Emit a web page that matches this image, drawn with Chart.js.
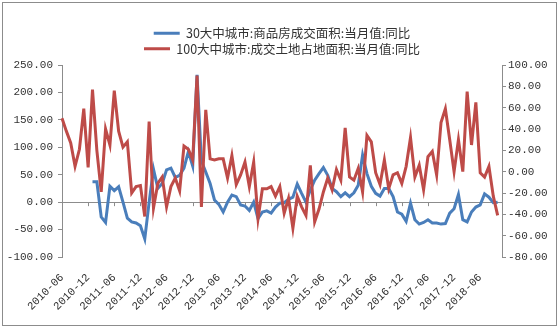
<!DOCTYPE html>
<html>
<head>
<meta charset="utf-8">
<script src="https://cdn.jsdelivr.net/npm/chart.js@4/dist/chart.umd.min.js"></script>
<style>
    body { margin: 0; background: #fff; }
    #wrap {
        position: absolute;
        left: 2px;
        top: 2px;
        width: 553px;
        height: 322px;
        border: 1px solid #8c8c8c;
    }
</style>
</head>
<body>
<div id="wrap"><canvas id="chart" width="553" height="322"></canvas></div>
<script>
// Months on the x axis: 2010-06 .. 2018-11 (last month has no data yet)
const startYear = 2010;
const startMonth = 6;
const monthCount = 102;
const months = [];
for (let i = 0; i < monthCount; i++) {
    const m = startMonth - 1 + i;
    const y = startYear + Math.floor(m / 12);
    const mm = (m % 12) + 1;
    months.push(y + '-' + (mm < 10 ? '0' + mm : mm));
}

const houseLabel = '30大中城市:商品房成交面积:当月值:同比';
const landLabel = '100大中城市:成交土地占地面积:当月值:同比';

// 30 cities, housing sales area yoy (left axis)
const houseValues = [
    null, null, null, null, null, null, null, 37, 37, -27,
    -37, 29, 21, 28, 0, -29, -36, -38, -43, -67,
    0, 60, 25, 34, 59, 62, 45, 49, 62, 92,
    66, 232, 75, 55, 34, 4, -4, -18, 0, 13,
    10, -5, -7, -15, 0, -30, -18, -16, -20, -9,
    -2, -1, 5, 9, 33, 16, 0, 22, 40, 52,
    63, 49, 25, 19, 10, 17, 10, 17, 31, 86,
    52, 29, 16, 11, 25, 25, 10, -18, -22, -35,
    -2, -32, -40, -37, -32, -38, -38, -40, -39, -20,
    -12, 14, -32, -36, -18, -9, -5, 15, 9, -1,
    0
];

// 100 cities, land area sold yoy (right axis)
const landValues = [
    50, 38, 27, 5, 21, 59, 4, 77, 20, -19,
    40, 25, 76, 38, 23, 28, -20, -14, -13, -42,
    47, -34, -11, -5, -33, -14, -6, -18, 24, 21,
    11, 90, -33, 58, 12, 11, 12, 12, -6, 15,
    -12, -3, 9, -14, 9, -44, -16, -16, -14, -23,
    -14, -39, -25, -53, -23, -33, -41, 6, -47, -35,
    -19, -6, -17, 2, -8, 41, -5, -8, 3, -19,
    34, 28, -1, -12, 11, -16, -3, -1, -11, 5,
    32, -5, 6, -17, 14, 19, -3, 46, 59, 30,
    0, 30, 0, 75, 25, 65, -1, -5, 5, -23,
    -41
];

const leftTicks = { min: -100, max: 250, step: 50 };
const rightTicks = { min: -80, max: 100, step: 20 };
const labelEvery = 6;

const axisColor = '#8c8c8c';
const textColor = '#333';
const tickFont = { family: 'Liberation Mono', size: 11 };

// small tick marks on the zero line, like the excel category axis
const zeroLineTicks = {
    id: 'zeroLineTicks',
    beforeDatasetsDraw(chart) {
        const ctx = chart.ctx;
        const xs = chart.scales.x;
        const y0 = chart.scales.y.getPixelForValue(0);
        ctx.save();
        ctx.strokeStyle = axisColor;
        ctx.lineWidth = 1;
        ctx.beginPath();
        for (let i = 0; i < months.length; i += labelEvery) {
            const px = Math.round(xs.getPixelForValue(i)) + 0.5;
            ctx.moveTo(px, y0);
            ctx.lineTo(px, y0 + 4);
        }
        ctx.stroke();
        ctx.restore();
    }
};

new Chart(document.getElementById('chart'), {
    type: 'line',
    data: {
        labels: months,
        datasets: [{
            label: houseLabel,
            data: houseValues,
            yAxisID: 'y',
            borderColor: '#4a7ebb',
            backgroundColor: '#4a7ebb',
            borderWidth: 3,
            pointRadius: 0,
            tension: 0,
            spanGaps: false,
            order: 1
        }, {
            label: landLabel,
            data: landValues,
            yAxisID: 'y1',
            borderColor: '#be4b48',
            backgroundColor: '#be4b48',
            borderWidth: 3,
            pointRadius: 0,
            tension: 0,
            order: 0
        }]
    },
    options: {
        responsive: false,
        animation: false,
        layout: { padding: { top: 8, left: 0, right: 0, bottom: 0 } },
        plugins: {
            tooltip: { enabled: false },
            legend: {
                position: 'top',
                fullSize: false,
                labels: {
                    color: textColor,
                    font: { family: 'Noto Sans CJK SC', size: 12.5 },
                    boxWidth: 26,
                    boxHeight: 3,
                    padding: 3,
                    generateLabels: function(chart) {
                        const items = Chart.defaults.plugins.legend.labels.generateLabels(chart);
                        items.forEach(it => { it.lineWidth = 0; });
                        return items.sort((a, b) => a.datasetIndex - b.datasetIndex);
                    }
                }
            }
        },
        scales: {
            x: {
                type: 'category',
                offset: false,
                grid: { display: false },
                border: { display: false },
                ticks: {
                    autoSkip: false,
                    minRotation: 45,
                    maxRotation: 45,
                    padding: 6,
                    color: textColor,
                    font: tickFont,
                    callback: function(v, i) {
                        return i % labelEvery === 0 ? months[i] : '';
                    }
                },
                afterFit: function(s) { s.height = 68; }
            },
            y: {
                position: 'left',
                min: leftTicks.min,
                max: leftTicks.max,
                grid: {
                    drawOnChartArea: true,
                    tickLength: 4,
                    tickColor: axisColor,
                    color: ctx => (ctx.tick && ctx.tick.value === 0) ? axisColor : 'rgba(0,0,0,0)'
                },
                border: { display: true, color: axisColor },
                ticks: {
                    stepSize: leftTicks.step,
                    padding: 5,
                    color: textColor,
                    font: tickFont,
                    callback: v => v.toFixed(2)
                },
                afterFit: function(s) { s.width = 59; s.paddingTop = 62; }
            },
            y1: {
                position: 'right',
                min: rightTicks.min,
                max: rightTicks.max,
                grid: {
                    drawOnChartArea: false,
                    tickLength: 4,
                    tickColor: axisColor
                },
                border: { display: true, color: axisColor },
                ticks: {
                    stepSize: rightTicks.step,
                    padding: 2,
                    color: textColor,
                    font: tickFont,
                    callback: v => v.toFixed(2)
                },
                afterFit: function(s) { s.width = 54; }
            }
        }
    },
    plugins: [zeroLineTicks]
});
</script>
</body>
</html>
